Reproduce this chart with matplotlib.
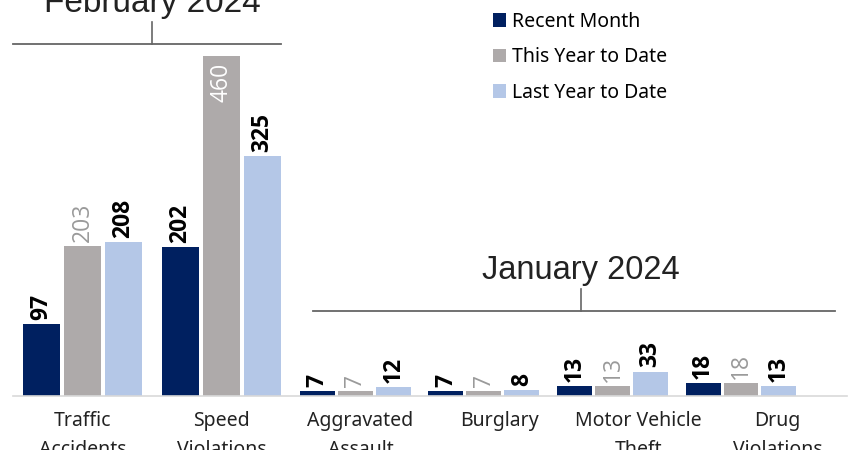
import numpy as np
import matplotlib
matplotlib.use('Agg')
from matplotlib import pyplot as plt
from matplotlib.patches import Patch

# data
categories   = ['Traffic\nAccidents', 'Speed\nViolations', 'Aggravated\nAssault',
                'Burglary', 'Motor Vehicle\nTheft', 'Drug\nViolations']
recent_month = [97, 202, 7, 7, 13, 18]
this_ytd     = [203, 460, 7, 7, 13, 18]
last_ytd     = [208, 325, 12, 8, 33, 13]
series_names = ['Recent Month', 'This Year to Date', 'Last Year to Date']
group_titles = ['February 2024', 'January 2024']
n_feb = 2   # first two categories belong to February

colors     = ['#002060', '#aeaaaa', '#b4c7e7']
lab_colors = ['black', '#9a9a9a', 'black']
lab_weight = ['bold', 'normal', 'bold']

plt.rcParams['font.family'] = ['Noto Sans', 'DejaVu Sans']

fig = plt.figure(figsize=(8.54, 4.5), dpi=100)
ax  = fig.add_axes([13/854, 54/450, 834/854, 396/450])

ymax = max(this_ytd) * 396 / 340
ax.set_ylim(0, ymax)
ax.set_xlim(-0.5, len(categories) - 0.5)

# the january bars sit in a slightly narrower band than the label slots
n_jan = len(categories) - n_feb
scale_jan = 0.925
centers = []
for i in range(len(categories)):
    if i < n_feb:
        centers.append(float(i))
    else:
        j = i - n_feb
        centers.append(n_feb - 0.5 + scale_jan * (j + 0.5))
centers = np.array(centers)
scales  = np.array([1.0] * n_feb + [scale_jan] * n_jan)

bar_w  = 0.272
offset = 0.295
data = [recent_month, this_ytd, last_ytd]
for k, vals in enumerate(data):
    xs = centers + (k - 1) * offset * scales
    ax.bar(xs, vals, width=bar_w * scales, color=colors[k], linewidth=0)
    for x, v in zip(xs, vals):
        if v == max(this_ytd) and k == 1:
            ax.annotate(str(v), (x, v), xytext=(0, -5), textcoords='offset points',
                        rotation=90, ha='center', va='top', fontsize=16.5,
                        color='white', family='Open Sans')
        else:
            ax.annotate(str(v), (x, v), xytext=(0, 3), textcoords='offset points',
                        rotation=90, ha='center', va='bottom', fontsize=16.5,
                        color=lab_colors[k], fontweight=lab_weight[k],
                        family='Open Sans')

ax.set_xticks(range(len(categories)))
ax.set_xticklabels(categories, fontsize=14, color='#222222', linespacing=1.55)
ax.tick_params(axis='x', length=0, pad=11)
ax.set_yticks([])
for s in ['top', 'left', 'right']:
    ax.spines[s].set_visible(False)
ax.spines['bottom'].set_color('#d9d9d9')
ax.spines['bottom'].set_linewidth(1.2)

# group brackets
px = ymax / 396.0   # data units per pixel (vertical)
def bracket(x0, x1, xm, y, title, tsize):
    ax.plot([x0, x1], [y, y], color='#666666', lw=1.3, clip_on=False)
    ax.plot([xm, xm], [y, y + 22 * px], color='#666666', lw=1.2, clip_on=False)
    ax.text(xm, y + 25 * px, title, ha='center', va='bottom', fontsize=tsize,
            family='Liberation Sans', color='#222222', clip_on=False)

feb_lo = centers[0] - offset - bar_w / 2
feb_hi = centers[n_feb - 1] + offset + bar_w / 2
bracket(-0.5, feb_hi, (feb_lo + feb_hi) / 2, (396 - 44) * px, group_titles[0], 24)
bracket(1.658, 5.414, 3.586, (396 - 311) * px, group_titles[1], 23.5)

handles = [Patch(facecolor=c, edgecolor='none') for c in colors]
fig.legend(handles, series_names, loc='upper left', bbox_to_anchor=(481/854, 1.0),
           frameon=False, fontsize=14, handlelength=0.7, handleheight=0.7,
           handletextpad=0.3, labelspacing=0.8, borderpad=0.1)

fig.savefig('out.png', dpi=100)
